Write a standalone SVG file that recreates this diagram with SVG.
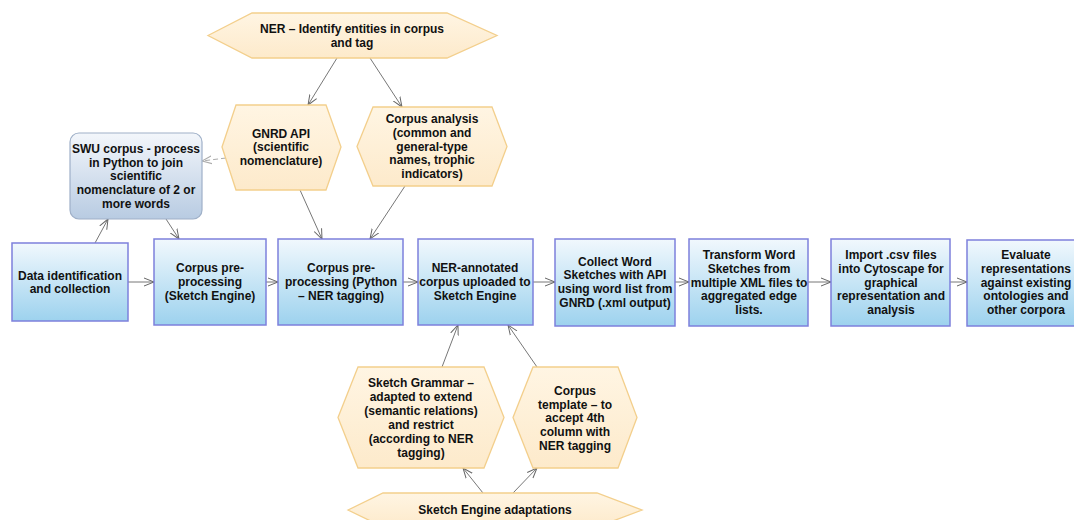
<svg xmlns="http://www.w3.org/2000/svg" width="1074" height="520" viewBox="0 0 1074 520">
<defs>
<linearGradient id="gBox" x1="0" y1="0" x2="0" y2="1">
<stop offset="0" stop-color="#f1f8fd"/>
<stop offset="1" stop-color="#9dd2ee"/>
</linearGradient>
<linearGradient id="gSwu" x1="0" y1="0" x2="0" y2="1">
<stop offset="0" stop-color="#f3f6fb"/>
<stop offset="1" stop-color="#b8cbe2"/>
</linearGradient>
<linearGradient id="gHex" x1="0" y1="0" x2="0" y2="1">
<stop offset="0" stop-color="#fff5e3"/>
<stop offset="1" stop-color="#fdeacb"/>
</linearGradient>
<marker id="arr" viewBox="0 0 10 10" refX="10" refY="5" markerWidth="10" markerHeight="10" markerUnits="userSpaceOnUse" orient="auto">
<path d="M0,1 L10,5 L0,9" fill="none" stroke="#666" stroke-width="1"/>
</marker>
<marker id="arrL" viewBox="0 0 10 10" refX="10" refY="5" markerWidth="10" markerHeight="10" markerUnits="userSpaceOnUse" orient="auto">
<path d="M0,1 L10,5 L0,9" fill="none" stroke="#aaa" stroke-width="1"/>
</marker>
</defs>
<style>
.box{fill:url(#gBox);stroke:#7d80dc;stroke-width:1.5}
.swu{fill:url(#gSwu);stroke:#9fb0c8;stroke-width:1.2}
.hex{fill:url(#gHex);stroke:#f3cf8c;stroke-width:1.3}
text{font-family:"Liberation Sans",Arial,sans-serif;font-size:12px;font-weight:bold;fill:#111;text-anchor:middle}
.c{fill:none;stroke:#777;stroke-width:1;marker-end:url(#arr)}
.d{fill:none;stroke:#aaa;stroke-width:1;stroke-dasharray:5,3;marker-end:url(#arrL)}
</style>

<g id="connectors">
<line class="c" x1="337" y1="58" x2="308" y2="105"/>
<line class="c" x1="370" y1="58" x2="402" y2="107"/>
<line class="d" x1="226" y1="158" x2="202" y2="161"/>
<line class="c" x1="300" y1="190" x2="322" y2="239"/>
<line class="c" x1="405" y1="186" x2="370" y2="239"/>
<line class="c" x1="95" y1="243" x2="108" y2="219"/>
<line class="c" x1="166" y1="219" x2="179" y2="239"/>
<line class="c" x1="128" y1="282" x2="154" y2="282"/>
<line class="c" x1="266" y1="282" x2="278" y2="282"/>
<line class="c" x1="403" y1="282" x2="418" y2="282"/>
<line class="c" x1="533" y1="282" x2="555" y2="282"/>
<line class="c" x1="675" y1="282" x2="689" y2="282"/>
<line class="c" x1="808" y1="282" x2="831" y2="282"/>
<line class="c" x1="950" y1="282" x2="967" y2="282"/>
<line class="c" x1="442" y1="367" x2="458" y2="325"/>
<line class="c" x1="537" y1="367" x2="508" y2="325"/>
<line class="c" x1="483" y1="493" x2="463" y2="468"/>
<line class="c" x1="513" y1="493" x2="537" y2="468"/>
</g>

<g id="ner">
<polygon class="hex" points="208,35.5 252,13 447,13 497,35.5 447,58 252,58"/>
<text x="352" y="33">NER – Identify entities in corpus</text>
<text x="352" y="47">and tag</text>
</g>

<g id="gnrd">
<polygon class="hex" points="222,147 236,105 326,105 341,147 326,190 236,190"/>
<text x="281" y="137.5">GNRD API</text>
<text x="281" y="151.2">(scientific</text>
<text x="281" y="164.9">nomenclature)</text>
</g>

<g id="corpus-analysis">
<polygon class="hex" points="357,146.5 373,107 492,107 507,146.5 492,186 373,186"/>
<text x="432" y="123.1">Corpus analysis</text>
<text x="432" y="136.8">(common and</text>
<text x="432" y="150.5">general-type</text>
<text x="432" y="164.2">names, trophic</text>
<text x="432" y="177.9">indicators)</text>
</g>

<g id="swu">
<rect class="swu" x="70" y="133" width="132" height="86" rx="9"/>
<text x="136" y="153">SWU corpus - process</text>
<text x="136" y="166.7">in Python to join</text>
<text x="136" y="180.4">scientific</text>
<text x="136" y="194.1">nomenclature of 2 or</text>
<text x="136" y="207.8">more words</text>
</g>

<g id="data-identification">
<rect class="box" x="12" y="243" width="116" height="78"/>
<text x="70" y="280">Data identification</text>
<text x="70" y="293">and collection</text>
</g>

<g id="preproc-se">
<rect class="box" x="154" y="239" width="112" height="86"/>
<text x="210" y="272.3">Corpus pre-</text>
<text x="210" y="286">processing</text>
<text x="210" y="299.7">(Sketch Engine)</text>
</g>

<g id="preproc-python">
<rect class="box" x="278" y="239" width="125" height="86"/>
<text x="341" y="272.3">Corpus pre-</text>
<text x="341" y="286">processing (Python</text>
<text x="341" y="299.7">– NER tagging)</text>
</g>

<g id="ner-annotated">
<rect class="box" x="418" y="239" width="115" height="86"/>
<text x="475" y="272.3">NER-annotated</text>
<text x="475" y="286">corpus uploaded to</text>
<text x="475" y="299.7">Sketch Engine</text>
</g>

<g id="collect-ws">
<rect class="box" x="555" y="239" width="120" height="87"/>
<text x="615" y="265.7">Collect Word</text>
<text x="615" y="279.4">Sketches with API</text>
<text x="615" y="293.1">using word list from</text>
<text x="615" y="306.8">GNRD (.xml output)</text>
</g>

<g id="transform-ws">
<rect class="box" x="689" y="239" width="119" height="87"/>
<text x="749" y="259.1">Transform Word</text>
<text x="749" y="272.8">Sketches from</text>
<text x="749" y="286.5">multiple XML files to</text>
<text x="749" y="300.2">aggregated edge</text>
<text x="749" y="313.9">lists.</text>
</g>

<g id="import-csv">
<rect class="box" x="831" y="239" width="119" height="87"/>
<text x="891" y="259.1">Import .csv files</text>
<text x="891" y="272.8">into Cytoscape for</text>
<text x="891" y="286.5">graphical</text>
<text x="891" y="300.2">representation and</text>
<text x="891" y="313.9">analysis</text>
</g>

<g id="evaluate">
<rect class="box" x="967" y="240" width="118" height="86"/>
<text x="1026" y="259.1">Evaluate</text>
<text x="1026" y="272.8">representations</text>
<text x="1026" y="286.5">against existing</text>
<text x="1026" y="300.2">ontologies and</text>
<text x="1026" y="313.9">other corpora</text>
</g>

<g id="sketch-grammar">
<polygon class="hex" points="338,417.5 358,367 484,367 504,417.5 484,468 358,468"/>
<text x="421" y="387">Sketch Grammar –</text>
<text x="421" y="401">adapted to extend</text>
<text x="421" y="415">(semantic relations)</text>
<text x="421" y="429">and restrict</text>
<text x="421" y="443">(according to NER</text>
<text x="421" y="457">tagging)</text>
</g>

<g id="corpus-template">
<polygon class="hex" points="513,417.5 533,367 618,367 637,417.5 618,468 533,468"/>
<text x="575" y="395">Corpus</text>
<text x="575" y="408.7">template – to</text>
<text x="575" y="422.4">accept 4th</text>
<text x="575" y="436.1">column with</text>
<text x="575" y="449.8">NER tagging</text>
</g>

<g id="se-adaptations">
<polygon class="hex" points="348,510 383,493 597,493 642,510 597,527 383,527"/>
<text x="495" y="514">Sketch Engine adaptations</text>
</g>
</svg>
